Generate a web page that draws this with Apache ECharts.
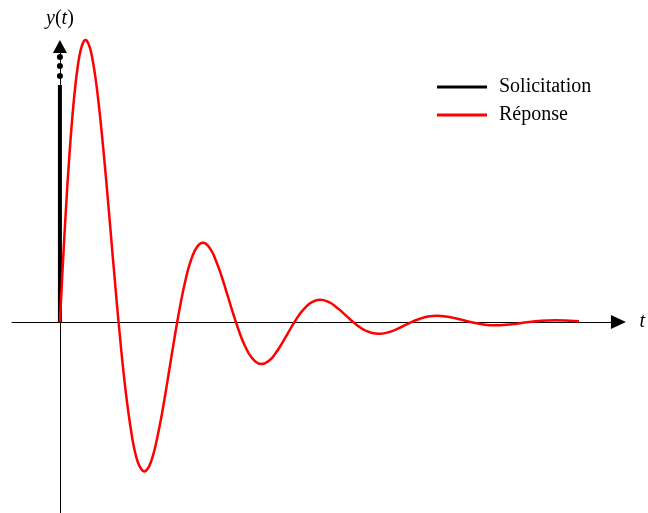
<!DOCTYPE html>
<html>
<head>
<meta charset="utf-8">
<style>
  html, body { margin: 0; padding: 0; background: #fff; }
  #chart { width: 648px; height: 513px; }
</style>
<script src="https://cdn.jsdelivr.net/npm/echarts@6/dist/echarts.min.js"></script>
</head>
<body>
<div id="chart"></div>
<script>
// Time samples of the response curve (each peak and trough is included)
const responseT = [
  0, 0.05, 0.1, 0.15, 0.2, 0.25, 0.3, 0.35, 0.4, 0.4275, 0.45, 0.5, 0.55, 0.6, 0.65,
  0.7, 0.75, 0.8, 0.85, 0.9,
  1.0, 1.1, 1.2, 1.25, 1.3, 1.35, 1.407, 1.45, 1.5, 1.55, 1.6, 1.7, 1.8, 1.9,
  2.0, 2.1, 2.2, 2.3, 2.386, 2.5, 2.6, 2.7, 2.8, 2.9,
  3.0, 3.1, 3.2, 3.3, 3.365, 3.5, 3.6, 3.7, 3.8, 3.9,
  4.0, 4.1, 4.2, 4.344, 4.5, 4.6, 4.7, 4.8, 4.9,
  5.0, 5.1, 5.2, 5.323, 5.5, 5.6, 5.7, 5.8,
  6.0, 6.15, 6.3025, 6.45, 6.6, 6.8, 7.0, 7.28, 7.45, 7.6, 7.8,
  8.0, 8.26, 8.45, 8.6, 8.667
];
// Response values y(t)
const responseY = [
  0, 0.587, 1.122, 1.594, 1.996, 2.320, 2.565, 2.727, 2.809, 2.820, 2.812, 2.743, 2.607, 2.413, 2.168,
  1.882, 1.566, 1.230, 0.881, 0.533,
  -0.132, -0.703, -1.134, -1.289, -1.400, -1.462, -1.494, -1.479, -1.428, -1.342, -1.227, -0.929, -0.575, -0.206,
  0.138, 0.426, 0.638, 0.759, 0.792, 0.740, 0.621, 0.455, 0.264, 0.070,
  -0.108, -0.253, -0.355, -0.410, -0.420, -0.382, -0.313, -0.221, -0.118, -0.016,
  0.075, 0.147, 0.196, 0.222, 0.196, 0.156, 0.106, 0.051, -0.002,
  -0.049, -0.085, -0.108, -0.118, -0.100, -0.078, -0.050, -0.021,
  0.030, 0.055, 0.062, 0.054, 0.038, 0.008, -0.018, -0.033, -0.028, -0.019, -0.003,
  0.011, 0.0175, 0.015, 0.009, 0.007
];
// Impulse (solicitation) drawn at t = 0: solid part, then dots suggesting it goes on
const impulseT = [0, 0];
const impulseY = [0, 2.37];
const impulseDotsY = [2.46, 2.56, 2.65];

const seriesNames = ['Solicitation', 'Réponse'];

const zip = (xs, ys) => xs.map((x, i) => [x, ys[i]]);

const serif = '"Liberation Serif", "DejaVu Serif", serif';

const chart = echarts.init(document.getElementById('chart'), null, { renderer: 'canvas' });

chart.setOption({
  animation: false,
  backgroundColor: '#ffffff',
  grid: { left: 12, right: 28.5, top: 46.5, bottom: 0, containLabel: false },
  legend: {
    data: seriesNames,
    orient: 'vertical',
    left: 437,
    top: 76,
    padding: 0,
    icon: 'rect',
    itemWidth: 50,
    itemHeight: 3,
    itemGap: 6,
    textStyle: { fontFamily: serif, fontSize: 20, color: '#000', padding: [0, 0, 0, 7], lineHeight: 22 }
  },
  xAxis: {
    type: 'value',
    min: -0.8,
    max: 9.325,
    name: 't',
    nameLocation: 'end',
    nameGap: 21,
    nameTextStyle: { fontFamily: serif, fontSize: 20, fontStyle: 'italic', color: '#000' },
    axisLine: {
      onZero: true,
      symbol: ['none', 'triangle'],
      symbolSize: [14, 15],
      lineStyle: { color: '#000', width: 1 }
    },
    axisTick: { show: false },
    axisLabel: { show: false },
    splitLine: { show: false }
  },
  yAxis: {
    type: 'value',
    min: -1.91,
    max: 2.755,
    name: '{i|y}({i|t})',
    nameLocation: 'end',
    nameGap: 18,
    nameTextStyle: {
      fontFamily: serif, fontSize: 20, color: '#000',
      rich: { i: { fontFamily: serif, fontSize: 20, fontStyle: 'italic', color: '#000' } }
    },
    axisLine: {
      onZero: true,
      symbol: ['none', 'triangle'],
      symbolSize: [14, 13],
      lineStyle: { color: '#000', width: 1 }
    },
    axisTick: { show: false },
    axisLabel: { show: false },
    splitLine: { show: false }
  },
  series: [
    {
      name: seriesNames[0],
      type: 'line',
      data: zip(impulseT, impulseY),
      showSymbol: false,
      clip: false,
      color: '#000',
      lineStyle: { color: '#000', width: 4 },
      z: 3
    },
    {
      type: 'scatter',
      data: impulseDotsY.map(y => [0, y]),
      symbol: 'circle',
      symbolSize: 6,
      clip: false,
      itemStyle: { color: '#000', opacity: 1 },
      z: 3
    },
    {
      name: seriesNames[1],
      type: 'line',
      data: zip(responseT, responseY),
      smooth: 0.5,
      showSymbol: false,
      clip: false,
      color: '#ff0000',
      lineStyle: { color: '#ff0000', width: 2.5, join: 'round' },
      z: 4
    }
  ]
});
</script>
</body>
</html>
